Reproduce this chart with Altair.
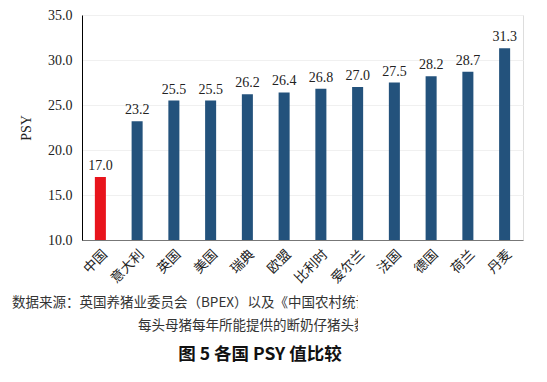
import altair as alt
import pandas as pd

countries = ["中国", "意大利", "英国", "美国", "瑞典", "欧盟", "比利时", "爱尔兰", "法国", "德国", "荷兰", "丹麦"]
psy = [17.0, 23.2, 25.5, 25.5, 26.2, 26.4, 26.8, 27.0, 27.5, 28.2, 28.7, 31.3]
highlight = ["中国"]

source_line1 = "数据来源：英国养猪业委员会（BPEX）以及《中国农村统计"
source_line2 = "每头母猪每年所能提供的断奶仔猪头数"
fig_title = "图 5 各国 PSY 值比较"

df = pd.DataFrame({"country": countries, "psy": psy})
df["grp"] = ["hl" if c in highlight else "base" for c in countries]

W, H = 441, 225
serif = "'Liberation Serif', 'Times New Roman', serif"
cjk = "'Noto Sans CJK SC', sans-serif"

x = alt.X("country:N", sort=countries, title=None,
          scale=alt.Scale(paddingInner=0.7, paddingOuter=0.35),
          axis=alt.Axis(labelAngle=-45, labelFont=cjk, labelFontSize=13.5,
                        labelColor="#222", domainColor="#777", ticks=False,
                        labelPadding=7))
y = alt.Y("psy:Q", title="PSY",
          scale=alt.Scale(domain=[10, 35], nice=False, zero=False),
          axis=alt.Axis(values=[10, 15, 20, 25, 30, 35], format=".1f",
                        labelFont=serif, labelFontSize=14, labelColor="#222",
                        titleFont=serif, titleFontSize=14, titleFontWeight="normal",
                        titleColor="#222", titlePadding=14,
                        domainColor="#000", ticks=False, labelPadding=10,
                        gridColor="#f0f0f0"))

bars = alt.Chart(df).mark_bar().encode(
    x=x, y=y, y2=alt.datum(10),
    color=alt.Color("grp:N", scale=alt.Scale(domain=["hl", "base"], range=["#E8141C", "#23527C"]), legend=None),
)
labels = alt.Chart(df).mark_text(dy=-11, font=serif, fontSize=14, color="#222").encode(
    x=alt.X("country:N", sort=countries), y="psy:Q", text=alt.Text("psy:Q", format=".1f"))

t1 = alt.Chart(pd.DataFrame({"t": [source_line1]})).mark_text(
    align="left", baseline="middle", font=cjk, fontSize=13.5, color="#333").encode(
    x=alt.value(-70), y=alt.value(288), text="t:N")
t2 = alt.Chart(pd.DataFrame({"t": [source_line2]})).mark_text(
    align="left", baseline="middle", font=cjk, fontSize=13.5, color="#333").encode(
    x=alt.value(56), y=alt.value(311), text="t:N")
cover = alt.Chart(pd.DataFrame({"a": [0]})).mark_rect(color="white").encode(
    x=alt.value(276), x2=alt.value(460), y=alt.value(275), y2=alt.value(322))
t3 = alt.Chart(pd.DataFrame({"t": [fig_title]})).mark_text(
    align="center", baseline="middle", font=cjk, fontSize=17.5, fontWeight="bold", color="#111").encode(
    x=alt.value(178), y=alt.value(340), text="t:N")

chart = alt.layer(bars, labels, t1, t2, cover, t3).properties(
    width=W, height=H,
    autosize=alt.AutoSizeParams(type="none"),
    padding={"left": 74, "top": 7, "right": 16, "bottom": 134},
).configure_view(stroke=None).configure(background="white")

chart.save("out.html", embed_options={"renderer": "svg", "actions": False})
